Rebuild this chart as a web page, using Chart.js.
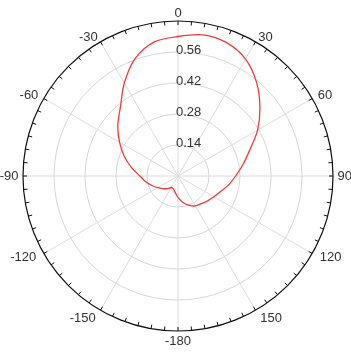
<!DOCTYPE html>
<html>
<head>
<meta charset="utf-8">
<script src="https://cdn.jsdelivr.net/npm/chart.js@4/dist/chart.umd.min.js"></script>
<style>
html,body{margin:0;padding:0;background:#fff;}
canvas{display:block;}
</style>
</head>
<body>
<canvas id="c" width="351" height="357"></canvas>
<script>
// Angles (degrees, clockwise from top) at 10° steps
const angles = [0,10,20,30,40,50,60,70,80,90,100,110,120,130,140,150,160,170,
                180,190,200,210,220,230,240,250,260,270,280,290,300,310,320,330,340,350];
// Radiation pattern magnitude
const pattern = [0.630,0.647,0.641,0.610,0.552,0.483,0.415,0.345,0.298,0.260,0.232,0.205,
                 0.187,0.175,0.163,0.156,0.140,0.120,0.097,0.075,0.062,0.060,0.075,0.088,
                 0.105,0.125,0.148,0.172,0.212,0.258,0.305,0.355,0.405,0.485,0.565,0.615];
// Radial tick labels
const radialTicks = [0.14,0.28,0.42,0.56];
const rMax = 0.7;
// Angular tick labels (every 30°)
const angleTickDeg = [0,30,60,90,120,150,180,210,240,270,300,330];
const angleTickText = ['0','30','60','90','120','150','-180','-150','-120','-90','-60','-30'];

const FONT = '13px "Liberation Sans", Arial, sans-serif';

const decor = {
  id: 'decor',
  afterDraw(chart) {
    const s = chart.scales.r;
    const ctx = chart.ctx;
    const step = 360 / angles.length;
    const R = s.getDistanceFromCenterForValue(rMax);
    ctx.save();
    // outer circle
    ctx.strokeStyle = '#111';
    ctx.lineWidth = 1.2;
    ctx.beginPath();
    ctx.arc(s.xCenter, s.yCenter, R, 0, Math.PI * 2);
    ctx.stroke();
    // minor ticks every 5°
    ctx.lineWidth = 1;
    for (let d = 0; d < 360; d += 5) {
      const p1 = s.getPointPosition(d / step, R);
      const p2 = s.getPointPosition(d / step, R - 4);
      ctx.beginPath();
      ctx.moveTo(p1.x, p1.y);
      ctx.lineTo(p2.x, p2.y);
      ctx.stroke();
    }
    // angle labels
    ctx.font = FONT;
    ctx.fillStyle = '#333';
    angleTickDeg.forEach((d, i) => {
      const txt = angleTickText[i];
      const a = d * Math.PI / 180;
      const sn = Math.sin(a), cs = Math.cos(a);
      let dist = R + 5 + 5 * (1 - cs) / 2;
      if (Math.abs(cs) < 1e-6) dist -= 3;
      const p = s.getPointPosition(d / step, dist);
      if (Math.abs(sn) < 1e-6) {
        ctx.textAlign = 'center';
        ctx.textBaseline = 'middle';
        const half = 5;
        const q = s.getPointPosition(d / step, dist + (cs > 0 ? half - 2 : half - 5));
        ctx.fillText(txt, q.x, q.y);
        return;
      }
      ctx.textAlign = sn > 0 ? 'left' : 'right';
      ctx.textBaseline = 'middle';
      ctx.fillText(txt, p.x, p.y);
    });
    // radial tick labels
    ctx.textAlign = 'left';
    ctx.textBaseline = 'middle';
    radialTicks.forEach(v => {
      const dist = s.getDistanceFromCenterForValue(v);
      ctx.fillText(v.toFixed(2), s.xCenter - 2, s.yCenter - dist - 2);
    });
    ctx.restore();
  }
};

new Chart(document.getElementById('c'), {
  type: 'radar',
  data: {
    labels: angles.map(String),
    datasets: [{
      data: pattern,
      borderColor: '#f23a3a',
      borderWidth: 1.3,
      pointRadius: 0,
      fill: false,
      tension: 0.3
    }]
  },
  options: {
    responsive: false,
    animation: false,
    layout: { padding: { left: 23, right: 18, top: 21, bottom: 25 } },
    plugins: { legend: { display: false }, tooltip: { enabled: false } },
    scales: {
      r: {
        min: 0,
        max: rMax,
        startAngle: 0,
        ticks: { display: false, stepSize: 0.14 },
        pointLabels: { display: false },
        grid: {
          circular: true,
          color: (c) => (c.tick && c.tick.value > 0.69) ? 'rgba(0,0,0,0)' : '#d6d6d6',
          lineWidth: 1
        },
        angleLines: {
          color: (c) => (c.index % 3 === 0) ? '#dcdcdc' : 'rgba(0,0,0,0)',
          lineWidth: 1
        }
      }
    }
  },
  plugins: [decor]
});
</script>
</body>
</html>
